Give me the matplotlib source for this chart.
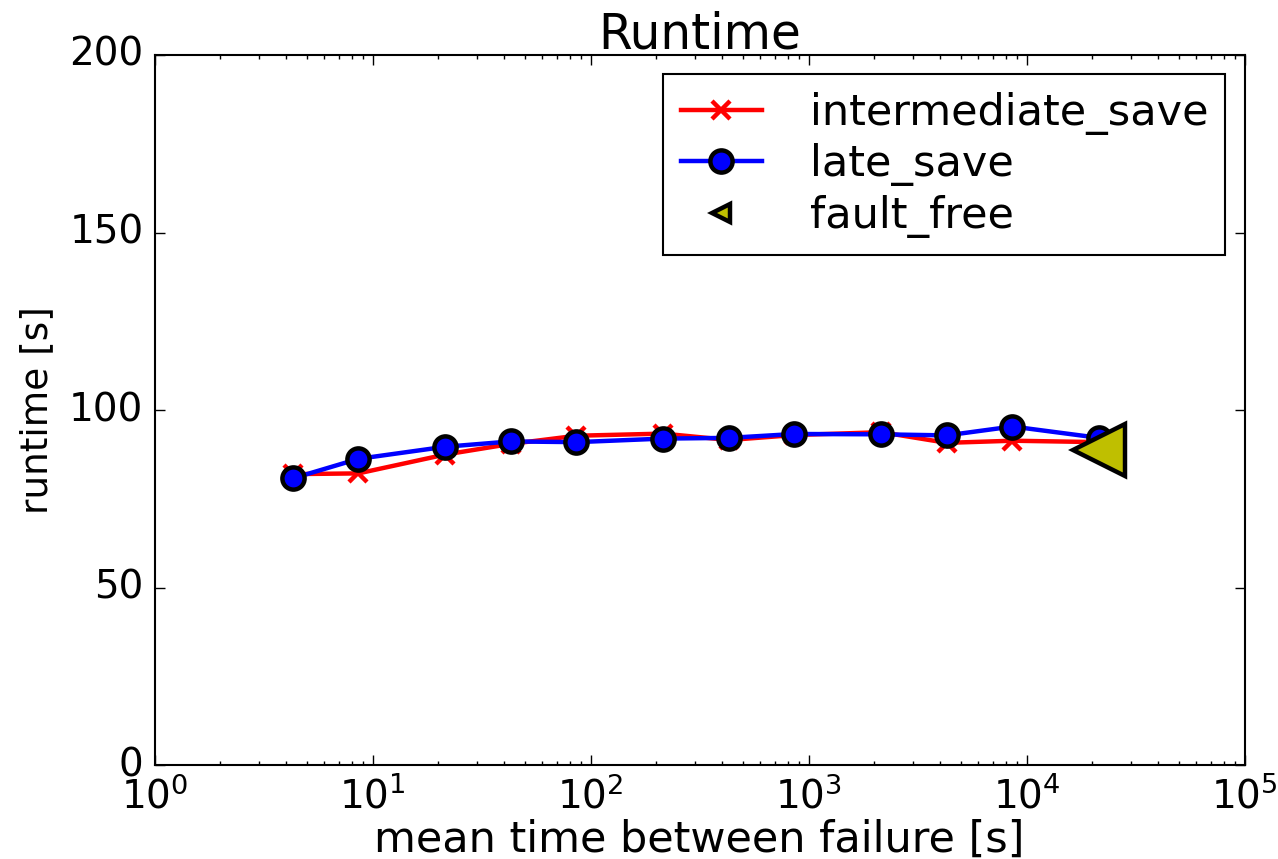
import matplotlib
matplotlib.use("Agg")
import matplotlib.pyplot as plt

mtbf = [4.3, 8.6, 21.5, 43, 86, 215, 430, 860, 2150, 4300, 8600, 21500]
intermediate_save = [82.0, 82.2, 87.5, 90.5, 92.8, 93.4, 91.6, 93.0, 93.8, 90.8, 91.4, 91.0]
late_save = [80.8, 86.3, 89.7, 91.2, 91.0, 92.0, 92.2, 93.3, 93.2, 92.9, 95.4, 92.2]
fault_free_x = [21500]
fault_free_y = [88.7]

plt.style.use("classic")
plt.rcParams["font.size"] = 28

fig = plt.figure(figsize=(12.78, 8.59), dpi=100, facecolor="white")
ax = fig.add_axes([0.121, 0.109, 0.853, 0.827])

ax.plot(mtbf, intermediate_save, color="red", marker="x", lw=3.2, ms=13, mew=3.2,
        mec="red", label="intermediate_save")
ax.plot(mtbf, late_save, color="blue", marker="o", lw=3.2, ms=16, mew=3.2,
        mfc="blue", mec="black", label="late_save")
ax.plot(fault_free_x, fault_free_y, ls="none", marker="<", ms=37, mew=3.2,
        mfc="#bfbf00", mec="black", label="fault_free")

ax.set_xscale("log")
ax.set_xlim(1, 1e5)
ax.set_ylim(0, 200)
ax.tick_params(which="major", length=7, width=1, pad=8, labelsize=28)
ax.tick_params(which="minor", length=3, width=1)
for s in ax.spines.values():
    s.set_linewidth(1.5)
ax.set_title("Runtime", fontsize=35, pad=5)
ax.set_xlabel("mean time between failure [s]", fontsize=31, labelpad=2)
ax.set_ylabel("runtime [s]", fontsize=27, labelpad=10)

leg = ax.legend(loc="upper right", numpoints=1, fontsize=31, handlelength=1.9,
                handletextpad=1.1, labelspacing=0.2, borderaxespad=0.45)
leg.get_frame().set_linewidth(1.5)
leg.legend_handles[2].set_markersize(13)

fig.savefig("out.png", dpi=100, facecolor="white")
